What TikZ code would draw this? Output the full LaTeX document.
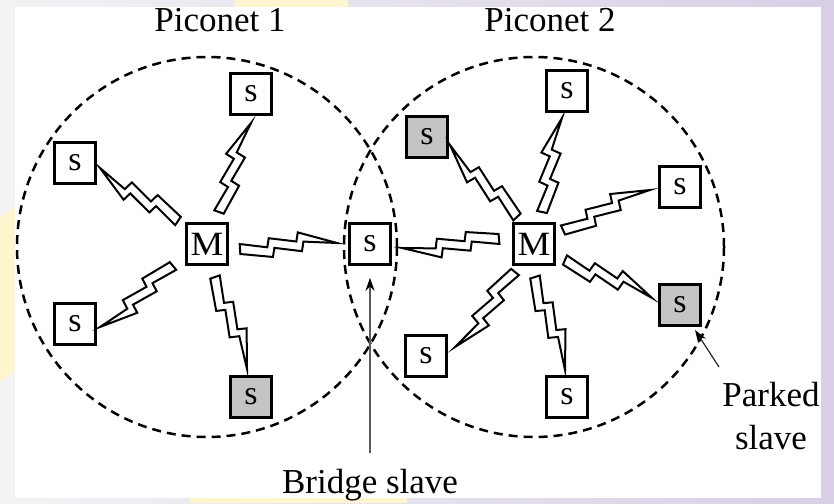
\documentclass[tikz,border=0pt]{standalone}
\usepackage{fontspec}
\setmainfont{Liberation Serif}
\usetikzlibrary{calc,arrows.meta}

\definecolor{parkgray}{RGB}{196,196,196}
\definecolor{slideyellow}{RGB}{255,246,208}
\definecolor{slidelav}{RGB}{216,207,229}
\definecolor{slidegray}{RGB}{243,243,245}
\definecolor{pointergray}{RGB}{90,90,90}

\tikzset{
  unit/.style={draw, line width=2.6pt, minimum size=41pt, inner sep=0pt,
    fill=white, font=\fontsize{34}{34}\selectfont},
  parkedunit/.style={unit, fill=parkgray},
  coverage/.style={circle, draw, line width=2.5pt, dash pattern=on 9pt off 6pt,
    minimum size=380pt, inner sep=0pt},
  lbl/.style={inner sep=0pt, font=\fontsize{35}{43}\selectfont},
  pointer/.style={draw=pointergray, line width=1.4pt,
    -{Stealth[length=13pt,width=9pt,color=black]}},
  % lightning-shaped radio link: blunt at the start, pointed at the target
  bolt/.style={draw, fill=white, line width=2pt, line join=miter,
    to path={
      ($(\tikztostart)!0!(\tikztotarget)!-5pt!90:(\tikztotarget)$)
   -- ($(\tikztostart)!0!(\tikztotarget)!5pt!90:(\tikztotarget)$)
   -- ($(\tikztostart)!0.281!(\tikztotarget)!0pt!90:(\tikztotarget)$)
   -- ($(\tikztostart)!0.302!(\tikztotarget)!9pt!90:(\tikztotarget)$)
   -- ($(\tikztostart)!0.583!(\tikztotarget)!4pt!90:(\tikztotarget)$)
   -- ($(\tikztostart)!0.604!(\tikztotarget)!13pt!90:(\tikztotarget)$)
   -- (\tikztotarget)
   -- ($(\tikztostart)!0.656!(\tikztotarget)!3.5pt!90:(\tikztotarget)$)
   -- ($(\tikztostart)!0.635!(\tikztotarget)!-6pt!90:(\tikztotarget)$)
   -- ($(\tikztostart)!0.354!(\tikztotarget)!-1pt!90:(\tikztotarget)$)
   -- ($(\tikztostart)!0.333!(\tikztotarget)!-10pt!90:(\tikztotarget)$)
   -- cycle}}
}

\begin{document}
\begin{tikzpicture}[x=1pt,y=-1pt]
\useasboundingbox (0,0) rectangle (834,503);

% slide background behind the white panel
\fill[left color=slidegray, right color=slidelav] (0,0) rectangle (834,503);
\fill[slideyellow] (235,0) rectangle (348,7);
\fill[slideyellow] (0,218) -- (15,206) -- (15,372) -- (0,382) -- cycle;
\fill[slideyellow] (190,498) rectangle (407,503);
\fill[slidelav] (821,0) rectangle (834,503);
\fill[white] (15,7) rectangle (821,498);

% coverage areas of the two piconets
\node[coverage] (pico1) at (207,247) {};
\node[coverage] (pico2) at (534,247) {};

% piconet 1
\node[unit] (m1) at (207,244) {\scalebox{1.08}[1]{M}};
\node[unit] (s1a) at (251,94) {s};
\node[unit] (s1b) at (75,163) {s};
\node[unit] (s1c) at (75,324) {s};
\node[parkedunit] (s1d) at (251,397) {s};

% shared slave
\node[unit] (bridge) at (370,244) {s};

% piconet 2
\node[unit] (m2) at (534,244) {\scalebox{1.08}[1]{M}};
\node[parkedunit] (s2a) at (427,137) {s};
\node[unit] (s2b) at (567,91) {s};
\node[unit] (s2c) at (680,187) {s};
\node[parkedunit] (s2d) at (680,305) {s};
\node[unit] (s2e) at (567,397) {s};
\node[unit] (s2f) at (426,356) {s};

% link end points
\coordinate (b1a) at ($(m1)+(12,-32)$);   \coordinate (b1b) at ($(s1a)+(0,29)$);
\coordinate (b2a) at ($(m1)+(-29,-23)$);  \coordinate (b2b) at ($(s1b)+(25,5)$);
\coordinate (b3a) at ($(m1)+(33,5)$);     \coordinate (b3b) at ($(bridge)+(-33,-1)$);
\coordinate (b4a) at ($(m1)+(-34,22)$);   \coordinate (b4b) at ($(s1c)+(25,3)$);
\coordinate (b5a) at ($(m1)+(8,33)$);     \coordinate (b5b) at ($(s1d)+(-4,-28)$);
\coordinate (b6a) at ($(m2)+(-35,-5)$);   \coordinate (b6b) at ($(bridge)+(32,4)$);
\coordinate (b7a) at ($(m2)+(-17,-27)$);  \coordinate (b7b) at ($(s2a)+(23,8)$);
\coordinate (b8a) at ($(m2)+(8,-32)$);    \coordinate (b8b) at ($(s2b)+(-5,27)$);
\coordinate (b9a) at ($(m2)+(29,-14)$);   \coordinate (b9b) at ($(s2c)+(-30,3)$);
\coordinate (b10a) at ($(m2)+(31,16)$);   \coordinate (b10b) at ($(s2d)+(-28,-7)$);
\coordinate (b11a) at ($(m2)+(-19,28)$);  \coordinate (b11b) at ($(s2f)+(29,-9)$);
\coordinate (b12a) at ($(m2)+(1,33)$);    \coordinate (b12b) at ($(s2e)+(-2,-27)$);

% radio links
\foreach \k in {1,...,12}{
  \draw[bolt] (b\k a) to (b\k b);
}

% labels
\node[lbl, anchor=base] (p1lbl) at (220,32) {Piconet 1};
\node[lbl, anchor=base] (p2lbl) at (550,32) {Piconet 2};
\node[lbl, anchor=base] (bridgelbl) at (370,493) {Bridge slave};
\node[lbl, align=center, anchor=north] (parklbl) at (771,382) {Parked\\slave};

% pointers
\draw[pointer, shorten <=16pt, shorten >=12pt] (bridgelbl.north) -- (bridge.south);
\coordinate (parkfrom) at (719,367);
\coordinate (parktip) at ($(s2d)+(15,25)$);
\draw[pointer, draw=black!85, line width=1.2pt] (parkfrom) -- (parktip);
\end{tikzpicture}
\end{document}
